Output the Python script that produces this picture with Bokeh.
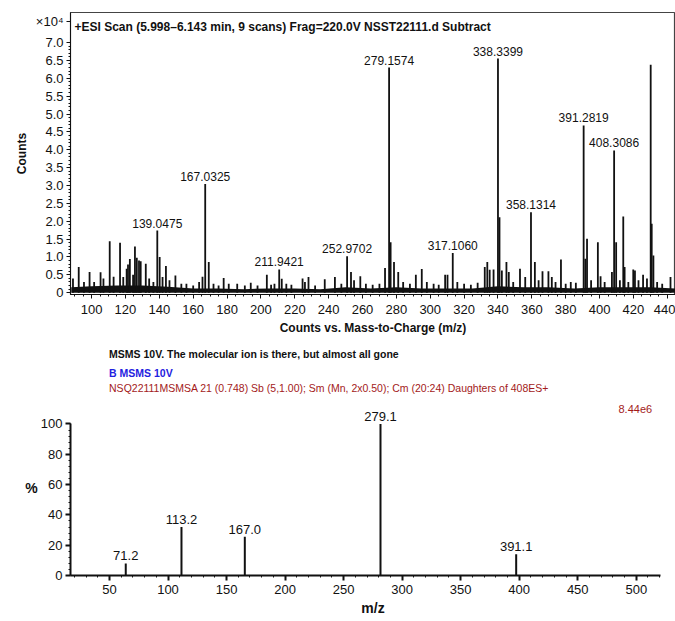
from bokeh.plotting import figure
from bokeh.models import (Range1d, Label, ColumnDataSource, SingleIntervalTicker, FixedTicker,
                          CustomJSTickFormatter)
from bokeh.layouts import column
from bokeh.core.properties import value
from bokeh.embed import file_html
from bokeh.resources import INLINE

# ---------------- data: full scan (counts in units of 1e4) ----------------
scan_mz = [89.0, 92.4, 95.5, 98.8, 101.5, 105.3, 107.0, 110.7, 113.0, 116.8, 118.7,
           120.7, 121.5, 122.6, 124.5, 125.6, 126.7, 128.0, 129.0, 132.0, 134.0,
           136.5, 138.8, 140.2, 141.9, 143.9, 146.0, 149.5, 153.0, 156.0, 160.0,
           163.5, 165.5, 167.1, 169.2, 172.0, 175.0, 178.0, 181.0, 186.0, 190.5,
           194.0, 198.0, 203.5, 206.0, 208.0, 210.8, 212.3, 215.0, 218.0, 224.6,
           226.0, 228.1, 232.0, 237.7, 243.7, 247.5, 250.9, 253.2, 255.0, 258.7,
           262.0, 266.0, 270.0, 273.3, 275.7, 276.6, 278.6, 281.1, 284.0, 288.0,
           291.5, 295.0, 298.0, 302.0, 305.0, 308.8, 310.2, 313.3, 316.0, 320.0,
           324.0, 328.0, 332.2, 333.7, 335.1, 337.4, 340.0, 340.9, 342.3, 345.0,
           346.4, 349.0, 353.0, 356.1, 359.5, 361.8, 364.0, 366.3, 369.8, 371.8,
           374.0, 377.2, 380.0, 383.0, 386.0, 390.6, 391.6, 392.6, 395.0, 399.0,
           400.6, 403.0, 407.3, 408.6, 409.8, 412.0, 414.0, 414.8, 417.0, 419.9,
           420.9, 423.0, 425.7, 428.0, 430.2, 430.8, 431.8, 434.0, 437.0, 441.9]
scan_counts_e4 = [0.40, 0.72, 0.30, 0.58, 0.30, 0.57, 0.40, 1.44, 0.45, 1.40, 0.44,
                  0.67, 0.79, 0.94, 0.50, 1.29, 0.98, 0.90, 0.88, 0.81, 0.40,
                  0.30, 1.74, 1.00, 0.44, 0.75, 0.35, 0.48, 0.25, 0.25, 0.20,
                  0.30, 0.45, 3.04, 0.86, 0.25, 0.20, 0.41, 0.25, 0.25, 0.20,
                  0.28, 0.20, 0.50, 0.22, 0.25, 0.65, 0.39, 0.25, 0.22, 0.40,
                  0.30, 0.44, 0.20, 0.38, 0.44, 0.25, 1.02, 0.58, 0.35, 0.46,
                  0.25, 0.22, 0.25, 0.69, 6.30, 1.41, 0.86, 0.58, 0.30, 0.25,
                  0.50, 0.66, 0.30, 0.25, 0.22, 0.50, 0.50, 1.11, 0.30, 0.25,
                  0.22, 0.28, 0.72, 0.86, 0.64, 0.65, 6.55, 2.11, 0.62, 0.86,
                  0.58, 0.30, 0.67, 0.44, 2.25, 0.86, 0.35, 0.60, 0.60, 0.44,
                  0.30, 0.93, 0.25, 0.30, 0.28, 4.68, 0.95, 1.51, 0.35, 1.41,
                  0.46, 0.30, 0.58, 3.98, 1.41, 0.35, 2.13, 0.72, 0.30, 0.65,
                  0.62, 0.35, 0.50, 0.40, 6.38, 1.93, 1.04, 0.30, 0.25, 0.44]

noise_mz = [88, 100, 115, 130, 145, 160, 175, 190, 205, 220, 235, 250, 265,
            280, 295, 310, 325, 340, 355, 370, 385, 400, 415, 430, 445]
noise_e4 = [0.15, 0.18, 0.20, 0.20, 0.17, 0.12, 0.12, 0.10, 0.12, 0.12, 0.10, 0.15,
            0.12, 0.15, 0.12, 0.12, 0.12, 0.18, 0.15, 0.15, 0.12, 0.15, 0.15, 0.15, 0.12]

scan_label_mz = [138.8, 167.1, 210.8, 250.9, 275.7, 313.3, 340.0, 359.5, 390.6, 408.6]
scan_label_h = [1.74, 3.04, 0.65, 1.02, 6.30, 1.11, 6.55, 2.25, 4.68, 3.98]
scan_label_text = ["139.0475", "167.0325", "211.9421", "252.9702", "279.1574",
                   "317.1060", "338.3399", "358.1314", "391.2819", "408.3086"]

# y ticks of the scan (x1e4); the extra top entry carries the "x10^4" exponent label
scan_yticks = [0.0, 0.5, 1.0, 1.5, 2.0, 2.5, 3.0, 3.5, 4.0, 4.5, 5.0, 5.5, 6.0, 6.5, 7.0]
exponent_tick = 7.6

# ---------------- data: MS/MS spectrum (%) ----------------
msms_mz = [63.9, 111.5, 165.6, 281.5, 397.4]
msms_pct = [8, 32, 25.5, 100, 14]
msms_text = ["71.2", "113.2", "167.0", "279.1", "391.1"]

FONT = "Liberation Sans"
INK = "#111111"
RED = "#a31a1a"
BLUE = "#1f22e0"

def style_axis(ax, lw=1):
    ax.major_label_text_font = FONT
    ax.major_label_text_font_size = "13px"
    ax.major_label_text_color = INK
    ax.axis_label_text_font = FONT
    ax.axis_label_text_font_style = "bold"
    ax.axis_label_text_font_size = "12px"
    ax.axis_label_text_color = INK
    ax.axis_line_color = INK
    ax.axis_line_width = lw
    ax.major_tick_line_color = INK
    ax.minor_tick_line_color = INK
    ax.major_tick_line_width = lw
    ax.major_tick_out = 4
    ax.major_tick_in = 0
    ax.minor_tick_out = 2
    ax.minor_tick_in = 0

# ================= top figure =================
p1 = figure(width=675, height=338, output_backend="svg", toolbar_location=None,
            x_range=Range1d(87.54, 444.85), y_range=Range1d(-0.05, 7.84),
            min_border_left=64, min_border_right=0, min_border_top=12, min_border_bottom=44)
p1.xgrid.visible = False
p1.ygrid.visible = False
p1.outline_line_color = "#444444"
p1.outline_line_width = 1.2

p1.varea(x=noise_mz, y1=0, y2=noise_e4, fill_color=INK)
src1 = ColumnDataSource(dict(x=scan_mz, y=scan_counts_e4))
p1.segment(x0="x", y0=0, x1="x", y1="y", source=src1, line_color=INK, line_width=1.8)
lab1 = ColumnDataSource(dict(x=scan_label_mz, y=scan_label_h, t=scan_label_text))
p1.text(x="x", y="y", text="t", source=lab1, text_align="center", text_baseline="bottom",
        y_offset=-3, text_font=value(FONT), text_font_size="12px", text_color=INK)

p1.xaxis.ticker = SingleIntervalTicker(interval=20, num_minor_ticks=4)
minor = [i / 10 for i in range(0, 71)]
p1.yaxis.ticker = FixedTicker(ticks=scan_yticks + [exponent_tick], minor_ticks=minor)
p1.yaxis.formatter = CustomJSTickFormatter(
    code="if (tick > 7.3) { return '\u00d710\u2074'; } return tick == 0 ? '0' : tick.toFixed(1);")
style_axis(p1.xaxis[0])
style_axis(p1.yaxis[0])
p1.xaxis.axis_label = "Counts vs. Mass-to-Charge (m/z)"
p1.yaxis.axis_label = "Counts"
p1.xaxis.major_label_standoff = 6
p1.xaxis.axis_label_standoff = 4
p1.yaxis.major_label_standoff = 3
p1.yaxis.axis_label_standoff = 4

p1.add_layout(Label(x=89.9, y=7.448,
                    text="+ESI Scan (5.998\u20136.143 min, 9 scans)  Frag=220.0V  NSST22111.d   Subtract",
                    text_font=FONT, text_font_size="12px", text_font_style="bold",
                    text_color=INK, text_align="left", text_baseline="middle"))

# ================= middle text strip =================
pm = figure(width=675, height=62, output_backend="svg", toolbar_location=None,
            x_range=Range1d(0, 675), y_range=Range1d(62, 0),
            min_border_left=0, min_border_right=0, min_border_top=0, min_border_bottom=0)
pm.axis.visible = False
pm.grid.visible = False
pm.outline_line_color = None

def mlabel(y, text, color=INK, bold=False):
    pm.add_layout(Label(x=43, y=y, text=text, text_font=FONT, text_font_size="10.5px",
                        text_font_style="bold" if bold else "normal", text_color=color,
                        text_align="left", text_baseline="middle"))

mlabel(15.7, "MSMS 10V. The molecular ion is there, but almost all gone", bold=True)
mlabel(34.3, "B MSMS 10V", color=BLUE, bold=True)
mlabel(49.7, "NSQ22111MSMSA  21 (0.748) Sb (5,1.00); Sm (Mn, 2x0.50); Cm (20:24)  Daughters of 408ES+",
       color=RED)

# ================= bottom figure =================
p2 = figure(width=675, height=221, output_backend="svg", toolbar_location=None,
            x_range=Range1d(16.7, 533.5), y_range=Range1d(0, 115.5),
            min_border_left=70, min_border_right=0, min_border_top=0, min_border_bottom=46)
p2.xgrid.visible = False
p2.ygrid.visible = False
p2.outline_line_color = None

src2 = ColumnDataSource(dict(x=msms_mz, y=msms_pct, t=msms_text))
p2.segment(x0="x", y0=0, x1="x", y1="y", source=src2, line_color=INK, line_width=2)
p2.text(x="x", y="y", text="t", source=src2, text_align="center", text_baseline="bottom",
        y_offset=-3, text_font=value(FONT), text_font_size="13px", text_color=INK)

p2.xaxis.ticker = SingleIntervalTicker(interval=50, num_minor_ticks=5)
p2.yaxis.ticker = SingleIntervalTicker(interval=20, num_minor_ticks=5)
p2.xaxis.bounds = (16.7, 520.3)
p2.yaxis.bounds = (0, 100)
style_axis(p2.xaxis[0], lw=2)
style_axis(p2.yaxis[0], lw=2)
p2.xaxis.major_tick_out = 5
p2.yaxis.major_tick_out = 5
p2.xaxis.major_label_standoff = 4
p2.yaxis.major_label_standoff = 3
p2.xaxis.axis_label = "m/z"
p2.xaxis.axis_label_text_font_size = "14px"
p2.xaxis.axis_label_standoff = 3
p2.yaxis.axis_label = "%"
p2.yaxis.axis_label_orientation = "horizontal"
p2.yaxis.axis_label_text_font_size = "14px"
p2.yaxis.axis_label_standoff = 0

p2.add_layout(Label(x=484.8, y=109.6, text="8.44e6", text_font=FONT, text_font_size="11px",
                    text_color=RED, text_align="left", text_baseline="middle"))

layout = column(p1, pm, p2)
open("out.html", "w").write(file_html(layout, INLINE))
